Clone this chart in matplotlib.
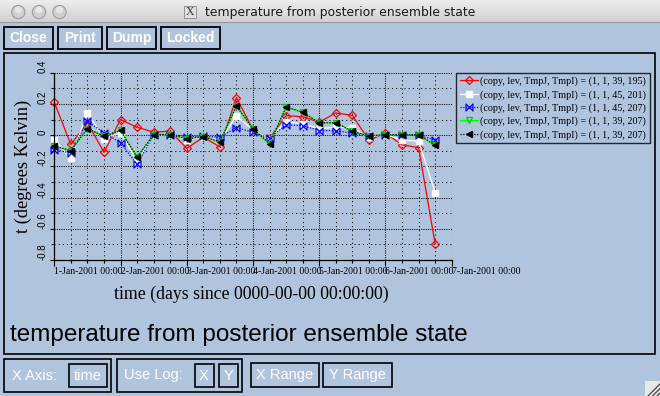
import numpy as np
import matplotlib
matplotlib.use("Agg")
import matplotlib.pyplot as plt
from matplotlib.patches import Rectangle, Circle
from matplotlib.path import Path
from matplotlib.ticker import MultipleLocator, FixedLocator

# ---------------- data ----------------
time_days = [0.0, 0.25, 0.5, 0.75, 1.0, 1.25, 1.5, 1.75, 2.0, 2.25, 2.5, 2.75,
             3.0, 3.25, 3.5, 3.75, 4.0, 4.25, 4.5, 4.75, 5.0, 5.25, 5.5, 5.75]

red_195 = [0.21, -0.06, 0.08, -0.11, 0.10, 0.05, 0.02, 0.025, -0.085, -0.013, -0.075, 0.24,
           0.035, -0.02, 0.125, 0.118, 0.083, 0.142, 0.127, -0.033, 0.012, -0.062, -0.08, -0.697]
white_201 = [-0.028, -0.146, 0.143, -0.022, 0.015, -0.167, 0.004, 0.004, -0.028, -0.013, -0.034, 0.121,
             0.036, -0.022, 0.085, 0.072, 0.042, 0.051, 0.047, -0.013, 0.004, -0.032, -0.039, -0.368]
blue_207 = [-0.094, -0.113, 0.089, 0.015, -0.049, -0.188, 0.004, 0.004, -0.009, -0.007, -0.013, 0.048,
            0.018, -0.018, 0.066, 0.061, 0.029, 0.029, 0.012, -0.007, 0.0, 0.0, 0.0, -0.03]
green_207 = [-0.071, -0.099, 0.042, -0.007, 0.030, -0.141, 0.004, 0.004, -0.024, -0.009, -0.043, 0.187,
             0.040, -0.055, 0.180, 0.147, 0.079, 0.079, 0.025, -0.005, 0.003, 0.003, 0.003, -0.065]
black_207 = [-0.071, -0.099, 0.042, -0.007, 0.030, -0.141, 0.004, 0.004, -0.024, -0.009, -0.043, 0.187,
             0.040, -0.055, 0.180, 0.147, 0.079, 0.079, 0.025, -0.005, 0.003, 0.003, 0.003, -0.065]

series_labels = ["(copy, lev, TmpJ, TmpI) = (1, 1, 39, 195)",
                 "(copy, lev, TmpJ, TmpI) = (1, 1, 45, 201)",
                 "(copy, lev, TmpJ, TmpI) = (1, 1, 45, 207)",
                 "(copy, lev, TmpJ, TmpI) = (1, 1, 39, 207)",
                 "(copy, lev, TmpJ, TmpI) = (1, 1, 39, 207)"]

xtick_days = [0, 1, 2, 3, 4, 5, 6]
xtick_labels = ["1-Jan-2001 00:00", "2-Jan-2001 00:00", "3-Jan-2001 00:00", "4-Jan-2001 00:00",
                "5-Jan-2001 00:00", "6-Jan-2001 00:00", "7-Jan-2001 00:00"]
ytick_vals = [-0.8, -0.6, -0.4, -0.2, 0.0, 0.2, 0.4]
ytick_labels = ["-0.8", "-0.6", "-0.4", "-0.2", "0", "0.2", "0.4"]

window_title = "temperature from posterior ensemble state"
plot_title = "temperature from posterior ensemble state"
ylabel = "t (degrees Kelvin)"
xlabel = "time (days since 0000-00-00 00:00:00)"

# ---------------- figure ----------------
W, H = 660, 396
BG = "#B0C4DE"
fig = plt.figure(figsize=(W / 100, H / 100), dpi=100, facecolor=BG)

# background axes in pixel coordinates for window chrome
bg = fig.add_axes([0, 0, 1, 1], zorder=-5)
bg.set_xlim(0, W)
bg.set_ylim(H, 0)
bg.axis("off")
bg.set_facecolor(BG)

# title bar gradient
grad = np.linspace(0, 1, 50).reshape(-1, 1)
top = np.array([0.93, 0.93, 0.93])
bot = np.array([0.82, 0.82, 0.82])
img = top[None, None, :] * (1 - grad[:, :, None]) + bot[None, None, :] * grad[:, :, None]
bg.imshow(img, extent=[0, W, 22, 0], aspect="auto", zorder=0)
bg.plot([0, W], [22, 22], color="#9A9A9A", lw=0.8, zorder=1)
for cx in [18.3, 39.0, 59.5]:
    bg.add_patch(Circle((cx, 12.0), 6.6, facecolor="#CFCFCF", edgecolor="#9C9C9C", lw=0.8, zorder=2))
    bg.add_patch(Circle((cx, 10.0), 3.5, facecolor="#E6E6E6", edgecolor="none", zorder=2))
bg.add_patch(Rectangle((184, 6), 12, 12, facecolor="#E0E0E0", edgecolor="#888888", lw=0.6, zorder=2))
bg.text(190, 12.3, "X", ha="center", va="center", fontsize=8.5, family="Liberation Serif",
        color="#333333", zorder=3)
bg.text(205, 12.5, window_title, ha="left", va="center", fontsize=8.95, family="DejaVu Sans",
        color="#1A1A1A", zorder=3)

# top buttons
for (x0, x1, lab) in [(4, 53, "Close"), (58, 102, "Print"), (107, 156, "Dump"), (161, 220, "Locked")]:
    bg.add_patch(Rectangle((x0, 26.5), x1 - x0, 22, facecolor="none", edgecolor="black", lw=1.3, zorder=2))
    bg.text((x0 + x1) / 2, 38.3, lab, ha="center", va="center", fontsize=10, weight="bold",
            family="Liberation Sans", color="white", zorder=3)

# main panel
bg.add_patch(Rectangle((4.3, 53.3), 650.7, 300.7, facecolor="none", edgecolor="black", lw=1.2, zorder=2))

# bottom controls
bg.add_patch(Rectangle((4.3, 359), 107, 33, facecolor="none", edgecolor="black", lw=1.2, zorder=2))
bg.add_patch(Rectangle((68.5, 363.5), 38, 23.5, facecolor="none", edgecolor="black", lw=1.2, zorder=2))
bg.add_patch(Rectangle((116.5, 359), 125.5, 33, facecolor="none", edgecolor="black", lw=1.2, zorder=2))
bg.add_patch(Rectangle((194.5, 363.5), 19, 23, facecolor="none", edgecolor="black", lw=1.2, zorder=2))
bg.add_patch(Rectangle((218.5, 363.5), 19.5, 23, facecolor="none", edgecolor="black", lw=1.2, zorder=2))
bg.add_patch(Rectangle((251, 363), 67.5, 23.5, facecolor="none", edgecolor="black", lw=1.2, zorder=2))
bg.add_patch(Rectangle((323, 363), 68.5, 23.5, facecolor="none", edgecolor="black", lw=1.2, zorder=2))
ctl = dict(va="center", fontsize=10.5, family="Liberation Sans", color="white", zorder=3)
bg.text(12.5, 375.5, "X Axis:", ha="left", **ctl)
bg.text(87.5, 376.5, "time", ha="center", **ctl)
bg.text(124, 375.5, "Use Log:", ha="left", **ctl)
bg.text(204, 376, "X", ha="center", **ctl)
bg.text(228.2, 376, "Y", ha="center", **ctl)
bg.text(284.7, 375, "X Range", ha="center", **ctl)
bg.text(357.2, 375, "Y Range", ha="center", **ctl)

# resize grip
bg.add_patch(Rectangle((645, 381), 15, 15, facecolor="#E8E8E8", edgecolor="none", zorder=2))
for off in [0, 4.5, 9]:
    bg.plot([648 + off, 660], [396, 384 + off], color="#444444", lw=0.9, zorder=3)

# big title and axis labels
bg.text(9.5, 334.5, plot_title, ha="left", va="center", fontsize=17.5, family="Liberation Sans",
        color="black", zorder=3)
bg.text(251.5, 294, xlabel, ha="center", va="center", fontsize=12.8, family="Liberation Serif",
        color="black", zorder=3)
bg.text(23.5, 166, ylabel, ha="center", va="center", rotation=90, fontsize=13.2,
        family="Liberation Serif", color="black", zorder=3)

# ---------------- main plot ----------------
x0p, x1p, y0p, y1p = 54.3, 451.7, 72.7, 260.0
ax = fig.add_axes([x0p / W, 1 - y1p / H, (x1p - x0p) / W, (y1p - y0p) / H])
ax.set_facecolor("none")
ax.set_xlim(0, 6)
ax.set_ylim(-0.8, 0.4)

bowtie = Path([(-1, -1), (-1, 1), (1, -1), (1, 1), (-1, -1)],
              [Path.MOVETO, Path.LINETO, Path.LINETO, Path.LINETO, Path.CLOSEPOLY])

lw = 0.9
l1, = ax.plot(time_days, red_195, color="red", lw=lw, marker="D", ms=4, mfc="none", mec="red",
              mew=0.9, label=series_labels[0], clip_on=False)
l2, = ax.plot(time_days, white_201, color="white", lw=lw, marker="s", ms=3.8, mfc="white", mec="white",
              label=series_labels[1], clip_on=False)
l3, = ax.plot(time_days, blue_207, color="blue", lw=lw, ls=(0, (1, 1.2)), marker=bowtie, ms=5,
              mfc="none", mec="blue", mew=0.9, label=series_labels[2], clip_on=False)
l4, = ax.plot(time_days, green_207, color="#00FF00", lw=lw, marker="v", ms=4.5, mfc="none",
              mec="#00CC00", mew=0.9, label=series_labels[3], clip_on=False)
l5, = ax.plot(time_days, black_207, color="black", lw=lw, ls=(0, (1, 1.2)), marker="<", ms=4.6,
              mfc="black", mec="black", label=series_labels[4], clip_on=False)

# ticks and grid
ax.xaxis.set_major_locator(FixedLocator(xtick_days))
ax.xaxis.set_minor_locator(MultipleLocator(0.25))
ax.yaxis.set_major_locator(FixedLocator(ytick_vals))
ax.yaxis.set_minor_locator(MultipleLocator(0.1))
ax.set_xticklabels(xtick_labels, ha="left", fontsize=7, family="Liberation Serif")
ax.set_yticklabels(ytick_labels, rotation=90, va="bottom", fontsize=7, family="Liberation Sans")
ax.tick_params(axis="x", which="major", direction="out", length=4, width=0.8, pad=1)
ax.tick_params(axis="x", which="minor", direction="out", length=2.5, width=0.8)
ax.tick_params(axis="y", which="major", direction="out", length=3, width=0.8, pad=2)
ax.tick_params(axis="y", which="minor", direction="out", length=2, width=0.8)
ax.grid(which="major", color="black", lw=0.75, ls=(0, (1, 1.2)))
ax.grid(which="minor", color="black", lw=0.75, ls=(0, (1, 3)))
ax.set_axisbelow(True)
for s in ["top", "right"]:
    ax.spines[s].set_visible(False)
for s in ["left", "bottom"]:
    ax.spines[s].set_linewidth(0.9)

leg = ax.legend(handles=[l1, l2, l3, l4, l5], loc="upper left",
                bbox_to_anchor=(456 / W, 1 - 73 / H), bbox_transform=fig.transFigure,
                frameon=True, fancybox=False, edgecolor="black", facecolor="none",
                borderpad=0.35, labelspacing=0.37, handlelength=1.85, handletextpad=0.2,
                borderaxespad=0, numpoints=1, prop={"family": "Liberation Serif", "size": 7.3})
leg.get_frame().set_linewidth(1.0)

fig.savefig("out.png", dpi=100, facecolor=BG)
